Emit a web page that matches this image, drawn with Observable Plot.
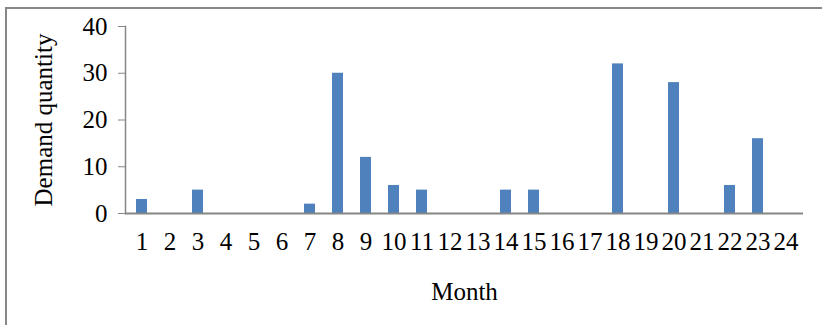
<!DOCTYPE html>
<html>
<head>
<meta charset="utf-8">
<script src="https://cdn.jsdelivr.net/npm/d3@7"></script>
<script src="https://cdn.jsdelivr.net/npm/@observablehq/plot@0.6"></script>
<style>
  html, body { margin: 0; padding: 0; background: #fff; }
  #wrap { position: relative; width: 822px; height: 325px; overflow: hidden; }
  #wrap svg { position: absolute; left: 0; top: 0; }
  #border { position: absolute; left: 5px; top: 7px; width: 900px; height: 400px;
            border-left: 2px solid #888; border-top: 2px solid #888; pointer-events: none; }
</style>
</head>
<body>
<div id="wrap"><div id="border"></div></div>
<script>
// Monthly demand quantities
const months = [1, 2, 3, 4, 5, 6, 7, 8, 9, 10, 11, 12, 13, 14, 15, 16, 17, 18, 19, 20, 21, 22, 23, 24];
const demand = [3, 0, 5, 0, 0, 0, 2, 30, 12, 6, 5, 0, 0, 5, 5, 0, 0, 32, 0, 28, 0, 6, 16, 0];
const yTicks = [0, 10, 20, 30, 40];

const data = months.map((m, i) => ({month: m, demand: demand[i]}));

const axisColor = "#868686";
const fs = 25;

const chart = Plot.plot({
  width: 822,
  height: 325,
  marginLeft: 125,
  marginRight: 19,
  marginTop: 26,
  marginBottom: 112,
  style: {fontFamily: "'Liberation Serif', 'Times New Roman', serif", fontSize: fs + "px", color: "#000", background: "transparent"},
  x: {type: "band", domain: months, paddingInner: 0.6, paddingOuter: 0.3},
  y: {domain: [0, 40]},
  marks: [
    Plot.barY(data, {x: "month", y: "demand", fill: "#4F81BD"}),
    Plot.axisY({ticks: yTicks, tickSize: 7, tickPadding: 11, fontSize: fs, stroke: axisColor, strokeOpacity: 1,
      label: "Demand quantity", labelAnchor: "center", labelArrow: "none", labelOffset: 91}),
    Plot.axisX({tickSize: 0, tickPadding: 19, fontSize: fs, label: "Month", labelAnchor: "center", labelArrow: "none", labelOffset: 86}),
    Plot.frame({anchor: "left", stroke: axisColor, strokeWidth: 1.5}),
    Plot.ruleY([0], {stroke: axisColor, strokeWidth: 2})
  ]
});

document.getElementById("wrap").prepend(chart);
</script>
</body>
</html>
